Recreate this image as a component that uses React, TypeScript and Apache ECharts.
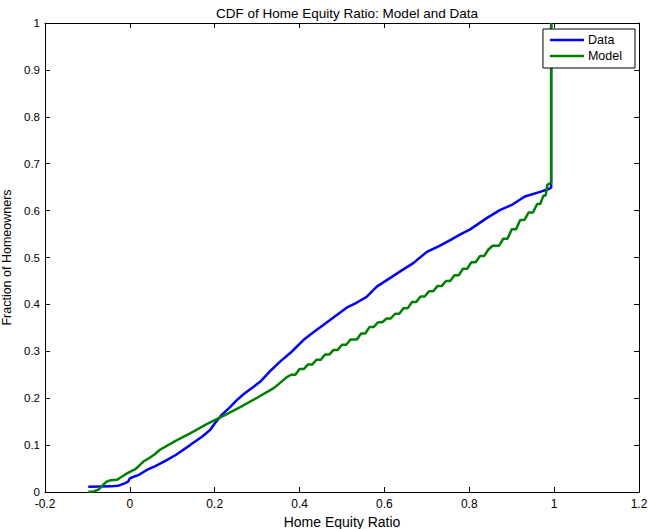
import React, { useEffect, useRef } from "react";
import * as echarts from "echarts";

const titleText = "CDF of Home Equity Ratio: Model and Data";
const xAxisName = "Home Equity Ratio";
const yAxisName = "Fraction of Homeowners";
const seriesNames = ["Data", "Model"];

const dataPoints: [number, number][] = [
  [-0.098, 0.011], [-0.043, 0.012], [-0.025, 0.014], [-0.011, 0.019], [-0.004, 0.022],
  [0.0, 0.029], [0.01, 0.033], [0.02, 0.036], [0.04, 0.047], [0.06, 0.055],
  [0.087, 0.068], [0.11, 0.08], [0.142, 0.1], [0.17, 0.118], [0.189, 0.132],
  [0.2, 0.146], [0.216, 0.164], [0.235, 0.18], [0.252, 0.196], [0.27, 0.21],
  [0.291, 0.224], [0.307, 0.235], [0.33, 0.257], [0.354, 0.278], [0.38, 0.298],
  [0.409, 0.324], [0.435, 0.342], [0.456, 0.356], [0.487, 0.377], [0.511, 0.393],
  [0.535, 0.404], [0.558, 0.416], [0.582, 0.438], [0.613, 0.456], [0.64, 0.472],
  [0.668, 0.488], [0.7, 0.512], [0.73, 0.525], [0.755, 0.537], [0.78, 0.55],
  [0.802, 0.56], [0.841, 0.584], [0.872, 0.601], [0.9, 0.612], [0.931, 0.63],
  [0.967, 0.64], [0.99, 0.647], [0.993, 0.65], [0.993, 1.0],
];

const modelPoints: [number, number][] = [
  [-0.098, 0.0], [-0.085, 0.001], [-0.074, 0.005], [-0.062, 0.016], [-0.055, 0.022],
  [-0.045, 0.025], [-0.031, 0.026], [-0.02, 0.032], [-0.01, 0.038], [0.0, 0.043],
  [0.012, 0.048], [0.022, 0.056], [0.032, 0.065], [0.045, 0.072], [0.058, 0.08],
  [0.071, 0.09], [0.09, 0.1], [0.11, 0.11], [0.142, 0.125], [0.18, 0.144],
  [0.224, 0.164], [0.26, 0.181], [0.3, 0.201], [0.34, 0.222], [0.37, 0.245],
  [0.38, 0.25], [0.39, 0.25], [0.4, 0.262], [0.41, 0.262], [0.42, 0.272],
  [0.43, 0.272], [0.44, 0.282], [0.45, 0.282], [0.46, 0.293], [0.47, 0.293],
  [0.48, 0.303], [0.49, 0.303], [0.5, 0.314], [0.51, 0.314], [0.52, 0.325],
  [0.535, 0.325], [0.545, 0.338], [0.555, 0.338], [0.565, 0.352], [0.575, 0.352],
  [0.585, 0.362], [0.595, 0.362], [0.605, 0.37], [0.615, 0.37], [0.625, 0.38],
  [0.635, 0.38], [0.645, 0.392], [0.655, 0.392], [0.665, 0.405], [0.675, 0.405],
  [0.685, 0.417], [0.695, 0.417], [0.705, 0.428], [0.715, 0.428], [0.725, 0.439],
  [0.735, 0.439], [0.745, 0.45], [0.755, 0.45], [0.765, 0.462], [0.775, 0.462],
  [0.785, 0.476], [0.795, 0.476], [0.805, 0.49], [0.815, 0.49], [0.825, 0.503],
  [0.835, 0.503], [0.845, 0.517], [0.855, 0.525], [0.87, 0.525], [0.88, 0.54],
  [0.89, 0.54], [0.9, 0.56], [0.91, 0.56], [0.92, 0.58], [0.93, 0.58],
  [0.94, 0.596], [0.95, 0.596], [0.96, 0.614], [0.967, 0.614], [0.975, 0.632],
  [0.98, 0.632], [0.984, 0.655], [0.99, 0.658], [0.993, 0.66], [0.993, 1.0],
];

const FONT = "Liberation Sans, Arial, Helvetica, sans-serif";

export default function App() {
  const ref = useRef<HTMLDivElement>(null);
  useEffect(() => {
    document.body.style.margin = "0";
    const chart = echarts.init(ref.current!, null, { renderer: "svg" });
    const axisCommon = {
      min: 0,
      max: 1,
      interval: 0.1,
      axisLine: { show: true, onZero: false, lineStyle: { color: "#000", width: 1 } },
      axisTick: { show: true, inside: true, length: 5, lineStyle: { color: "#000" } },
      splitLine: { show: false },
    };
    const xCommon = {
      type: "value" as const,
      min: -0.2,
      max: 1.2,
      interval: 0.2,
      axisLine: { show: true, onZero: false, lineStyle: { color: "#000", width: 1 } },
      axisTick: { show: true, inside: true, length: 5, lineStyle: { color: "#000" } },
      splitLine: { show: false },
    };
    chart.setOption({
      animation: false,
      backgroundColor: "#fff",
      textStyle: { fontFamily: FONT },
      title: {
        text: titleText,
        left: 342,
        textAlign: "center",
        top: 1,
        textStyle: { fontSize: 13.5, fontWeight: "normal", color: "#000", fontFamily: FONT },
      },
      grid: { left: 45, right: 9, top: 23, bottom: 37, outerBoundsMode: "none" },
      legend: {
        data: seriesNames,
        orient: "vertical",
        right: 13,
        top: 29,
        backgroundColor: "#fff",
        borderColor: "#000",
        borderWidth: 1,
        borderRadius: 0,
        padding: [4, 13, 5, 7],
        itemGap: 2,
        itemWidth: 34,
        itemHeight: 2.5,
        icon: "rect",
        textStyle: { fontSize: 12.5, lineHeight: 14, color: "#000", fontFamily: FONT, padding: [0, 0, 0, -1] },
      },
      xAxis: [
        {
          ...xCommon,
          position: "bottom",
          name: xAxisName,
          nameLocation: "middle",
          nameGap: 21,
          nameTextStyle: { fontSize: 14, color: "#000", fontFamily: FONT },
          axisLabel: { fontSize: 12, color: "#000", margin: 6, fontFamily: FONT },
        },
        { ...xCommon, position: "top", axisLabel: { show: false } },
      ],
      yAxis: [
        {
          type: "value",
          ...axisCommon,
          position: "left",
          name: yAxisName,
          nameLocation: "middle",
          nameGap: 30,
          nameTextStyle: { fontSize: 12.5, color: "#000", fontFamily: FONT },
          axisLabel: { fontSize: 11.5, color: "#000", margin: 5, fontFamily: FONT },
        },
        { type: "value", ...axisCommon, position: "right", axisLabel: { show: false } },
      ],
      series: [
        {
          name: seriesNames[0],
          type: "line",
          data: dataPoints,
          symbol: "none",
          lineStyle: { color: "#0000ff", width: 2.5 },
          itemStyle: { color: "#0000ff" },
          clip: true,
        },
        {
          name: seriesNames[1],
          type: "line",
          data: modelPoints,
          symbol: "none",
          lineStyle: { color: "#008000", width: 2.5 },
          itemStyle: { color: "#008000" },
          clip: true,
        },
      ],
    });
    return () => chart.dispose();
  }, []);
  return <div ref={ref} style={{ width: 648, height: 529 }} />;
}
